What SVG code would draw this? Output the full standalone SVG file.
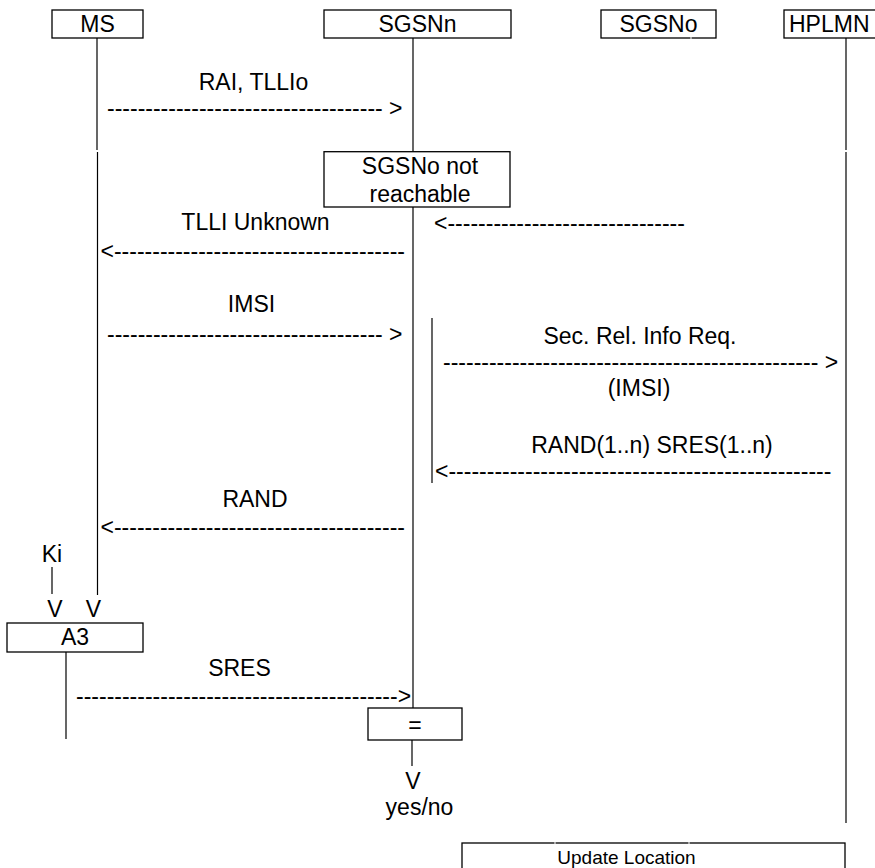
<svg xmlns="http://www.w3.org/2000/svg" width="875" height="868" viewBox="0 0 875 868">
<style>
text{font-family:"Liberation Sans",Arial,sans-serif;font-size:23px;fill:#000}
.c{text-anchor:middle}
.box{fill:#fff;stroke:#000;stroke-width:1.3}
.ln{stroke:#000;stroke-width:1.2;fill:none}
</style>
<rect width="875" height="868" fill="#fff"/>
<g id="lifelines">
<line class="ln" x1="97" y1="38" x2="97" y2="150"/>
<line class="ln" x1="97.5" y1="152" x2="97.5" y2="595"/>
<line class="ln" x1="413" y1="38" x2="413" y2="708"/>
<line class="ln" x1="846" y1="38" x2="846" y2="150"/>
<line class="ln" x1="846" y1="152" x2="846" y2="823"/>
<line class="ln" x1="432" y1="318" x2="432" y2="483"/>
<line class="ln" x1="66" y1="652" x2="66" y2="739"/>
<line class="ln" x1="52" y1="567" x2="52" y2="594"/>
<line class="ln" x1="412" y1="740" x2="412" y2="766"/>
</g>
<g id="MS"><rect class="box" x="52" y="10" width="91" height="28"/><text class="c" x="97.5" y="32">MS</text></g>
<g id="SGSNn"><rect class="box" x="324" y="10" width="187" height="28"/><text class="c" x="417.5" y="32">SGSNn</text></g>
<g id="SGSNo"><rect class="box" x="601" y="10" width="115" height="28"/><text class="c" x="658.5" y="32">SGSNo</text><rect x="690.5" y="37" width="1" height="2" fill="#fff"/></g>
<g id="HPLMN"><rect class="box" x="784" y="10" width="100" height="28"/><text x="789" y="32">HPLMN</text></g>
<g id="notReachable"><rect class="box" x="324" y="151.7" width="186" height="55.3"/><text class="c" x="420" y="174">SGSNo not</text><text class="c" x="420" y="201.5">reachable</text></g>
<g id="A3"><rect class="box" x="7" y="623" width="136" height="29"/><text class="c" x="75" y="645">A3</text></g>
<g id="compare"><rect class="box" x="368" y="708" width="94" height="32"/><text class="c" x="415" y="733">=</text></g>
<g id="updateLocation"><rect class="box" x="462" y="843" width="383" height="40"/><rect x="554.5" y="842" width="1" height="2" fill="#fff"/><rect x="688.5" y="842" width="1" height="2" fill="#fff"/><text class="c" x="626.5" y="864" style="font-size:19px">Update Location</text></g>
<g id="labels">
<text class="c" x="52" y="562">Ki</text>
<text class="c" x="55" y="617">V</text>
<text class="c" x="93.5" y="617">V</text>
<text class="c" x="413" y="789">V</text>
<text class="c" x="419.5" y="815">yes/no</text>
</g>
<g id="connectors">
<text class="c" x="253.5" y="90">RAI, TLLIo</text>
<text x="107" y="116">------------------------------------ &gt;</text>
<text x="434" y="231">&lt;-------------------------------</text>
<text class="c" x="255.5" y="230">TLLI Unknown</text>
<text x="100.5" y="259">&lt;--------------------------------------</text>
<text class="c" x="251.5" y="312">IMSI</text>
<text x="107" y="342">------------------------------------ &gt;</text>
<text class="c" x="640" y="344">Sec. Rel. Info Req.</text>
<text x="443" y="370">------------------------------------------------- &gt;</text>
<text class="c" x="639" y="396">(IMSI)</text>
<text class="c" x="652" y="453">RAND(1..n) SRES(1..n)</text>
<text x="435" y="479">&lt;--------------------------------------------------</text>
<text class="c" x="255" y="507">RAND</text>
<text x="100.5" y="535">&lt;--------------------------------------</text>
<text class="c" x="239.5" y="676">SRES</text>
<text x="76" y="704">------------------------------------------&gt;</text>
</g>
</svg>
